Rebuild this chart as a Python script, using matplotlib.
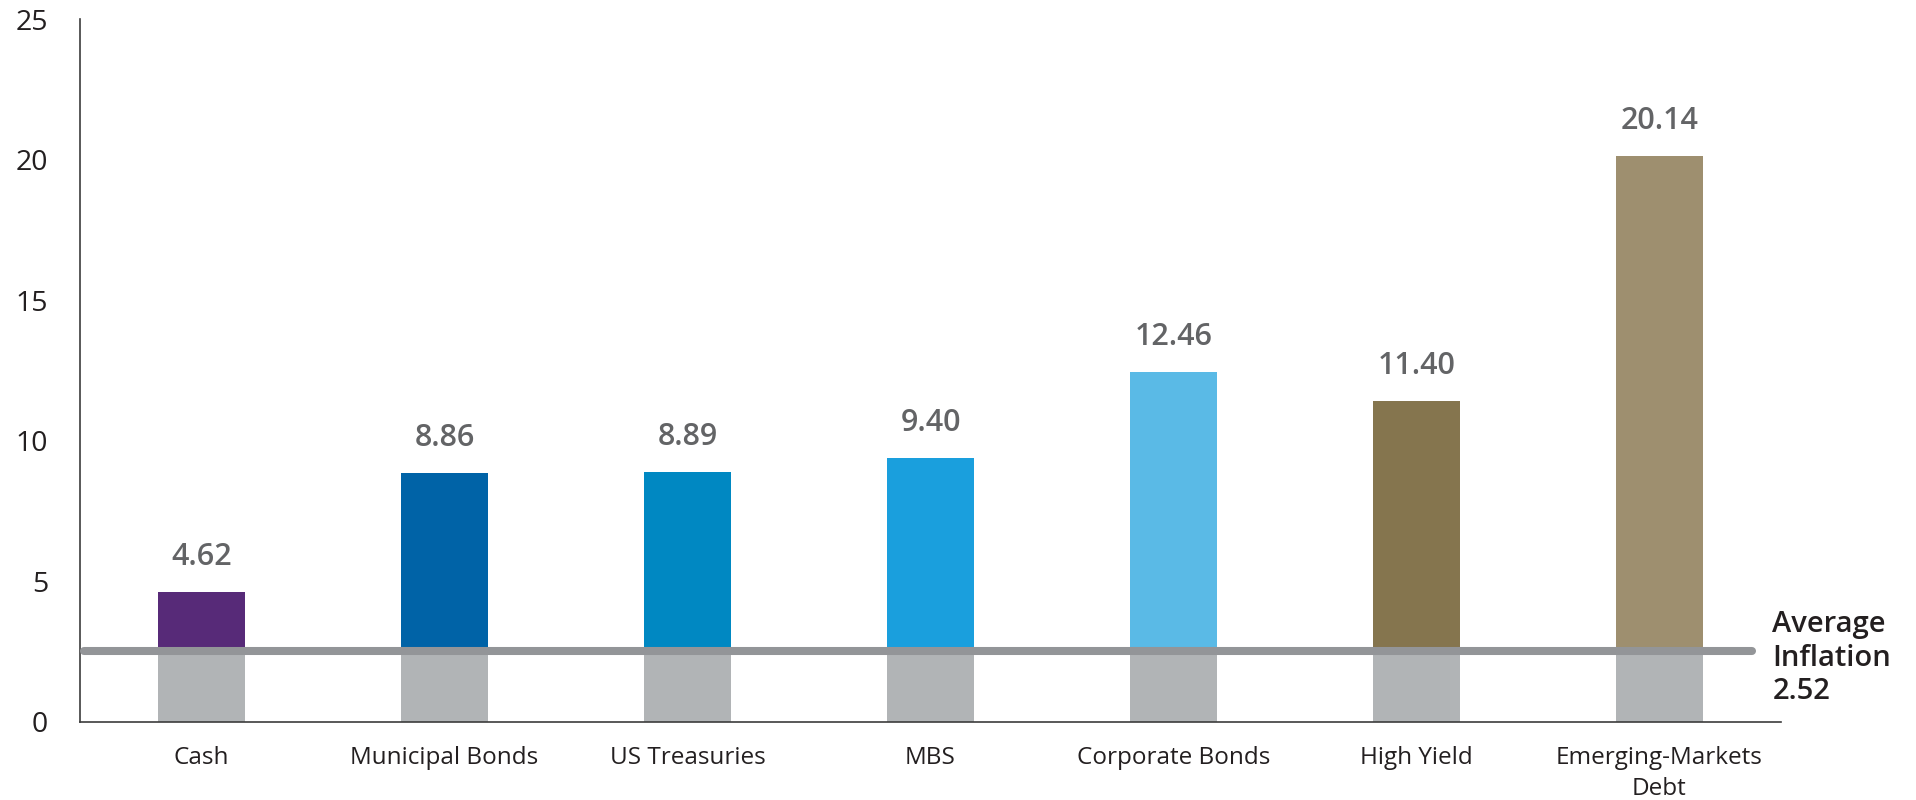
import matplotlib.pyplot as plt
import numpy as np

plt.rcParams['font.family'] = ['Open Sans', 'DejaVu Sans']

categories = ['Cash', 'Municipal Bonds', 'US Treasuries', 'MBS',
              'Corporate Bonds', 'High Yield', 'Emerging-Markets\nDebt']
returns = [4.62, 8.86, 8.89, 9.40, 12.46, 11.40, 20.14]
bar_colors = ['#572a78', '#0063a7', '#0088c2', '#1a9fdd',
              '#5abae6', '#85754e', '#9e8f6f']
avg_inflation = 2.52
y_ticks = [0, 5, 10, 15, 20, 25]

fig = plt.figure(figsize=(19.16, 8), dpi=100)
ax = fig.add_axes([0.0418, 0.0975, 0.8877, 0.8787])

x = np.arange(len(categories))
width = 0.358

# gray part up to inflation, colored part above it
ax.bar(x, [avg_inflation] * len(x), width, color='#b1b4b6', zorder=2)
ax.bar(x, np.array(returns) - avg_inflation, width, bottom=avg_inflation,
       color=bar_colors, zorder=2)

ax.plot([-0.485, 6.38], [avg_inflation, avg_inflation], color='#939598',
        linewidth=5.8, solid_capstyle='round', zorder=3, clip_on=False)

for xi, v in zip(x, returns):
    ax.annotate(f'{v:.2f}', (xi, v), xytext=(0, 19.5), textcoords='offset points',
                ha='center', va='baseline', fontsize=22, fontweight='semibold',
                color='#636466')

ax.annotate(f'Average\nInflation\n{avg_inflation:.2f}', (6.465, avg_inflation),
            xytext=(0, -5), textcoords='offset points',
            ha='left', va='center', fontsize=21, fontweight='semibold',
            color='#231f20', linespacing=1.2, annotation_clip=False)

ax.set_xlim(-0.5, 6.5)
ax.set_ylim(0, 25)
ax.set_yticks(y_ticks)
ax.set_xticks(x)
ax.set_xticklabels(categories, fontsize=17.5, color='#231f20', linespacing=1.4)
ax.tick_params(axis='y', length=0, pad=23, labelsize=20.5, labelcolor='#231f20')
ax.tick_params(axis='x', length=0, pad=17)

for side in ['top', 'right']:
    ax.spines[side].set_visible(False)
for side in ['left', 'bottom']:
    ax.spines[side].set_color('#3c3c3c')
    ax.spines[side].set_linewidth(1.2)

fig.savefig('out.png', dpi=100)
